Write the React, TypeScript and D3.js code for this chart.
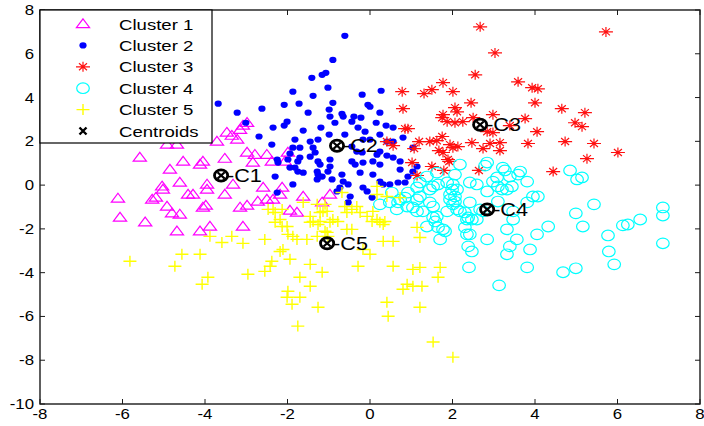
import React from 'react';
import * as d3 from 'd3';

const W = 704;
const H = 426;

const xTicks = [-8, -6, -4, -2, 0, 2, 4, 6, 8];
const yTicks = [-10, -8, -6, -4, -2, 0, 2, 4, 6, 8];

const cluster1: [number, number][] = [
  [-6.11,-0.61],[-6.06,-1.48],[-5.58,1.26],[-5.45,-1.70],[-5.28,-0.66],[-5.19,-0.57],[-5.02,-0.20],[-4.92,1.85],[-4.85,0.71],[-4.92,-0.98],
  [-4.80,-1.29],[-4.61,-1.34],[-4.68,-2.11],[-4.68,1.85],[-4.53,1.08],[-4.61,0.12],[-5.04,-0.06],[-4.41,-0.43],[-4.29,-0.43],[-4.12,0.94],
  [-4.05,1.08],[-4.05,-1.02],[-3.98,-0.93],[-4.12,-2.11],[-3.88,-1.89],[-3.95,-0.20],[-3.95,0.03],[-3.71,1.99],[-3.52,1.21],[-3.52,-0.43],
  [-3.32,0.03],[-3.47,2.40],[-3.35,2.26],[-3.22,2.08],[-3.15,2.53],[-3.08,2.72],[-2.98,2.85],[-3.15,-1.02],[-2.98,-0.93],[-3.08,-1.89],
  [-2.98,1.49],[-2.79,1.39],[-2.84,1.03],[-2.50,1.39],[-2.38,1.08],[-2.72,-0.75],[-2.59,-0.11],[-2.50,-0.66],[-2.35,-0.66],[-2.13,-0.11],
  [-2.06,1.08],[-1.99,1.49],[-1.94,-1.16],[-1.77,-1.25],[-1.62,-0.52],[-1.16,-0.79],[-0.97,-0.43],[-2.18,-0.43],
];

const cluster2: [number, number][] = [
  [-0.61,6.82],[-0.90,5.72],[-1.07,5.13],[-1.16,5.04],[-1.41,4.90],[-1.02,4.45],[-1.87,4.27],[-1.38,4.08],[-0.19,4.13],[0.27,4.31],
  [-2.08,3.67],[-1.72,3.72],[-0.90,3.76],[-0.05,3.67],[-3.68,3.72],[-3.22,3.31],[-3.01,2.85],[-2.62,3.49],
  [-1.50,3.31],[-0.99,3.45],[-0.68,3.26],[-0.65,3.13],[-0.39,3.13],[-0.22,3.08],[0.24,3.31],[-0.97,3.13],[0.00,3.58],
  [-2.01,2.90],[-2.08,2.72],[-2.35,2.63],[-0.85,2.85],[-0.44,2.90],[0.15,2.85],[0.39,2.72],[0.56,2.63],[-1.19,2.63],[-0.29,2.63],
  [-1.62,2.49],[-0.99,2.31],[-0.61,2.31],[-0.12,2.44],[0.24,2.31],[-2.69,2.22],[-2.38,1.85],[-1.82,2.08],[-1.26,2.08],[-1.45,1.99],
  [-0.17,2.08],[0.00,2.08],[0.56,1.99],[0.80,2.17],[0.41,1.99],
  [-1.87,1.71],[-1.38,1.71],[-1.70,1.71],[-0.44,1.76],[-0.32,1.53],[-0.19,1.49],[0.24,1.53],[0.17,1.39],[0.41,1.35],[0.56,1.26],[0.73,1.08],[1.04,1.71],
  [-1.94,1.44],[-1.70,1.26],[-1.45,1.30],[-1.33,1.49],[-1.26,1.08],[-1.21,0.94],[-0.97,1.17],[-0.44,1.08],[-0.36,0.94],[-0.17,1.03],[0.07,1.08],[0.24,0.94],
  [-2.25,1.17],[-2.23,1.03],[-1.75,1.08],[-1.99,1.17],
  [-1.94,0.80],[-1.82,0.80],[-1.75,0.62],[-1.62,0.57],[-1.28,0.62],[-1.26,0.48],[-1.16,0.39],[-0.97,0.85],[-1.02,0.62],[-0.68,0.48],
  [-0.24,0.57],[0.07,0.48],[1.14,0.85],[1.04,0.62],[0.73,0.71],[0.92,0.39],
  [-2.30,0.39],[-1.28,0.26],[-0.92,0.26],[-0.65,0.16],[-0.53,0.03],[0.24,0.16],[0.32,0.03],[0.68,0.12],[0.48,0.03],[0.85,0.12],
  [-1.87,0.03],[-0.73,-0.11],[-0.80,-0.29],[-0.17,-0.11],[-0.07,-0.29],[-2.25,-0.34],[-0.48,-0.52],[-0.53,-0.79],[0.05,-0.57],
];

const cluster3: [number, number][] = [
  [2.67,7.23],[5.72,7.00],[3.03,6.04],[2.55,5.04],[1.77,4.68],[2.01,4.27],[3.59,4.72],[3.93,4.45],[4.07,4.40],[2.45,3.76],
  [4.00,3.76],[2.06,3.54],[2.11,3.35],[1.77,3.22],[1.75,3.08],[2.98,3.22],[4.65,3.49],[5.21,3.31],[1.87,2.90],[2.06,2.85],
  [2.25,2.90],[2.50,3.08],[3.76,3.04],[4.97,2.85],[5.14,2.67],[3.39,2.72],[2.84,2.44],[2.98,2.40],[4.05,2.44],[1.75,2.22],
  [1.94,1.85],[2.01,1.71],[2.13,1.76],[2.47,1.94],[2.91,1.90],[3.15,1.94],[2.74,1.67],[3.15,1.58],[3.83,1.90],[4.73,1.99],
  [5.43,1.90],[6.01,1.49],[5.26,1.21],[1.77,1.49],[1.89,1.17],
  [0.78,4.27],[1.31,4.18],[1.50,4.36],[0.80,3.49],[0.85,2.58],[0.92,2.58],[1.19,1.99],[1.45,1.99],[1.62,2.03],[0.56,1.80],
  [0.41,1.99],[1.07,1.67],[1.67,1.58],[1.50,0.85],[1.79,0.67],[1.92,1.08],[2.64,0.67],[4.44,0.62],[1.14,0.44],[1.02,1.03],
];

const cluster4: [number, number][] = [
  [2.18,0.94],[2.84,1.03],[2.79,0.89],[3.22,0.80],[3.27,0.67],[3.64,0.62],[3.59,0.48],[3.81,0.16],[3.08,0.35],[2.98,0.16],
  [3.10,-0.06],[3.39,0.39],[3.44,-0.06],[3.20,-0.20],[3.32,-0.20],[2.42,0.12],[2.59,0.03],[2.84,-0.29],[2.06,0.48],[2.01,0.03],
  [1.99,-0.20],[2.11,-0.20],[1.94,-0.43],[2.06,-0.52],[2.06,-0.75],[1.65,0.03],[1.53,-0.06],[1.45,-0.20],[1.87,0.12],[1.21,0.12],
  [1.14,-0.11],[1.38,0.39],[1.62,0.57],[1.14,-0.66],[0.73,-0.66],[0.68,-0.79],[0.48,-0.79],[0.53,-0.34],[0.90,-0.98],[1.04,-1.02],
  [1.14,-1.20],[1.28,-1.20],[1.45,-0.79],[1.53,-0.98],[1.87,-1.20],[2.11,-1.11],[2.18,-1.20],[2.30,-1.25],[2.38,-1.48],[2.35,-1.57],
  [2.47,-1.57],[2.59,-1.57],[2.42,-0.79],[2.67,-1.11],[2.74,-1.20],[3.10,-0.75],[1.38,-1.89],[1.53,-1.48],[1.62,-1.43],[1.58,-1.66],
  [1.65,-1.93],[1.82,-2.11],[1.70,-2.48],[2.30,-1.93],[2.35,-2.25],[2.42,-2.25],[2.38,-2.80],[2.47,-3.03],[2.84,-2.48],[3.32,-2.02],
  [3.47,-1.57],[3.56,-2.48],[3.39,-2.80],[3.32,-3.16],[3.88,-2.94],[4.05,-2.25],[4.32,-1.89],[4.07,-0.52],[3.95,-0.52],[3.81,-0.79],
  [3.47,-1.20],[4.85,0.67],[5.02,0.26],[5.14,0.35],[5.43,-0.88],[4.99,-1.29],[5.16,-1.89],[5.77,-2.30],[5.79,-3.03],[5.92,-3.62],
  [6.13,-1.84],[6.25,-1.80],[6.55,-1.57],[7.10,-1.02],[7.10,-1.39],[7.10,-2.66],[3.81,-3.76],[4.68,-3.98],[4.99,-3.80],[2.40,-3.76],
  [3.13,-4.58],[0.24,-0.88],[0.65,-1.11],[0.85,-0.57],[0.92,-0.34],[1.21,-0.52],[1.77,-2.02],[1.94,-0.66],[2.01,-0.88],
];

const cluster5: [number, number][] = [
  [-5.82,-3.48],[-4.73,-3.71],[-4.56,-3.16],[-4.12,-3.16],[-4.07,-4.53],[-3.93,-4.21],[-3.88,-2.34],[-3.59,-2.62],[-3.35,-2.34],[-3.08,-2.66],
  [-2.96,-4.07],[-2.55,-2.48],[-2.47,-1.11],[-2.35,-1.11],[-2.30,-1.25],[-2.13,-1.11],[-2.30,-1.70],[-2.18,-1.57],[-2.13,-1.89],[-1.99,-2.25],
  [-1.77,-2.48],[-1.53,-2.48],[-2.18,-3.03],[-2.11,-2.94],[-2.38,-3.48],[-2.42,-3.71],[-2.55,-3.94],[-1.94,-3.39],[-1.70,-4.21],[-1.45,-4.62],
  [-1.99,-4.85],[-2.01,-5.12],[-1.89,-5.44],[-1.70,-5.12],[-1.26,-5.58],[-1.75,-6.44],[-1.45,-3.62],[-1.16,-3.98],[-1.28,-2.34],[-1.04,-2.16],
  [-1.21,-1.25],[-1.04,-1.20],[-1.09,-0.88],[-1.62,-0.79],[-1.45,-1.43],[-1.21,-1.66],[-0.90,-1.57],[-0.78,-1.66],[-0.56,-2.02],[-0.56,-1.25],
  [-0.61,-0.98],[-0.68,-0.34],[0.17,-0.06],[0.17,-0.43],[0.41,-0.52],[-0.24,-1.25],[-0.07,-1.43],[0.07,-1.20],[0.17,-1.57],[0.36,-1.66],
  [0.32,-1.80],[-0.17,-2.94],[0.00,-3.16],[-0.29,-3.71],[0.32,-2.57],[0.56,-2.57],[0.56,-3.71],[1.04,-3.85],[1.21,-3.76],[1.70,-3.76],
  [1.65,-4.21],[0.90,-4.53],[1.04,-4.62],[1.26,-4.62],[0.80,-4.76],[0.41,-5.35],[0.44,-5.99],[1.21,-5.58],[1.53,-7.17],[2.01,-7.86],
  [1.14,-1.93],[1.21,-2.39],[0.73,-0.57],[-1.45,-1.70],[-1.38,-1.66],[-1.26,-1.80],[-0.44,-1.11],[-0.32,-0.98],[-0.97,-1.70],[-0.44,-2.02],
  [0.05,-1.66],[0.24,-1.70],[-1.87,-2.34],[-1.09,-2.11],[-1.02,-2.34],[-2.01,-1.89],[-1.14,-1.20],[-1.28,-0.88],
];

const centroidNames = ['C1', 'C2', 'C3', 'C4', 'C5'];
const centroidX = [-3.61, -0.80, 2.67, 2.84, -1.04];
const centroidY = [0.44, 1.80, 2.76, -1.11, -2.66];

const legendLabels = ['Cluster 1', 'Cluster 2', 'Cluster 3', 'Cluster 4', 'Cluster 5', 'Centroids'];

const FONT = '"Liberation Sans", Arial, Helvetica, sans-serif';
const SX = 1.2; // horizontal stretch of the original figure

type Kind = 'tri' | 'dot' | 'star' | 'circ' | 'plus' | 'x';

function Marker({ kind, cx, cy }: { kind: Kind; cx: number; cy: number }) {
  const t = `translate(${cx},${cy})`;
  switch (kind) {
    case 'tri':
      return <path transform={t} d="M0,-5.2L6.6,3.6L-6.6,3.6Z" fill="none" stroke="#ff00ff" strokeWidth={1.2} />;
    case 'dot':
      return <ellipse cx={cx} cy={cy} rx={3.6} ry={3.1} fill="#0000ff" />;
    case 'star':
      return (
        <path
          transform={t}
          d="M-7,0H7M0,-5V5M-4,-3.5L4,3.5M-4,3.5L4,-3.5"
          fill="none"
          stroke="#ff1010"
          strokeWidth={1.2}
        />
      );
    case 'circ':
      return <ellipse cx={cx} cy={cy} rx={6.3} ry={5.3} fill="none" stroke="#00ffff" strokeWidth={1.2} />;
    case 'plus':
      return <path transform={t} d="M-6.5,0H6.5M0,-5.5V5.5" fill="none" stroke="#ffff00" strokeWidth={1.4} />;
    case 'x':
      return <path transform={t} d="M-3.5,-3.5L3.5,3.5M-3.5,3.5L3.5,-3.5" fill="none" stroke="#000" strokeWidth={2.4} />;
  }
  return null;
}

export default function App() {
  const left = 40, right = 700, top = 10, bottom = 404;
  const x = d3.scaleLinear().domain([-8, 8]).range([left, right]);
  const y = d3.scaleLinear().domain([-10, 8]).range([bottom, top]);

  const series: { kind: Kind; data: [number, number][] }[] = [
    { kind: 'tri', data: cluster1 },
    { kind: 'dot', data: cluster2 },
    { kind: 'star', data: cluster3 },
    { kind: 'circ', data: cluster4 },
    { kind: 'plus', data: cluster5 },
  ];
  const legendKinds: Kind[] = ['tri', 'dot', 'star', 'circ', 'plus', 'x'];

  const legendTop = top;
  const legendRowH = 21.4;
  const legendFirst = 24;
  const legendBottom = 143;
  const legendRight = 212;

  return (
    <svg
      width={W}
      height={H}
      style={{ position: 'absolute', left: 0, top: 0, background: '#fff' }}
      fontFamily={FONT}
    >
      <rect x={0} y={0} width={W} height={H} fill="#fff" />
      <defs>
        <clipPath id="plotclip">
          <rect x={left} y={top} width={right - left} height={bottom - top} />
        </clipPath>
      </defs>

      <g clipPath="url(#plotclip)">
        {series.map((s, si) => (
          <g key={si}>
            {s.data.map((d, i) => (
              <Marker key={i} kind={s.kind} cx={x(d[0])} cy={y(d[1])} />
            ))}
          </g>
        ))}
        {centroidNames.map((n, i) => {
          const cx = x(centroidX[i]);
          const cy = y(centroidY[i]);
          return (
            <g key={n}>
              <ellipse cx={cx} cy={cy} rx={6.6} ry={5.6} fill="none" stroke="#000" strokeWidth={2.8} />
              <path
                transform={`translate(${cx},${cy})`}
                d="M-3.6,-3.2L3.6,3.2M-3.6,3.2L3.6,-3.2"
                stroke="#000"
                strokeWidth={2.2}
              />
              <text
                transform={`translate(${cx + 6},${cy + 6.5}) scale(${SX},1)`}
                fontSize={18}
                fill="#000"
              >
                {'-' + n}
              </text>
            </g>
          );
        })}
      </g>

      {/* axes box */}
      <rect x={left} y={top} width={right - left} height={bottom - top} fill="none" stroke="#1a1a1a" strokeWidth={1.4} />
      {xTicks.map((t) => (
        <g key={'x' + t}>
          <line x1={x(t)} x2={x(t)} y1={bottom} y2={bottom - 5} stroke="#1a1a1a" strokeWidth={1} />
          <line x1={x(t)} x2={x(t)} y1={top} y2={top + 5} stroke="#1a1a1a" strokeWidth={1} />
          <text
            transform={`translate(${x(t)},${bottom + 15}) scale(${SX},1)`}
            textAnchor="middle"
            fontSize={14}
            fill="#000"
          >
            {t}
          </text>
        </g>
      ))}
      {yTicks.map((t) => (
        <g key={'y' + t}>
          <line x1={left} x2={left + 5} y1={y(t)} y2={y(t)} stroke="#1a1a1a" strokeWidth={1} />
          <line x1={right} x2={right - 5} y1={y(t)} y2={y(t)} stroke="#1a1a1a" strokeWidth={1} />
          <text
            transform={`translate(${left - 6},${y(t) + 5}) scale(${SX},1)`}
            textAnchor="end"
            fontSize={14}
            fill="#000"
          >
            {t}
          </text>
        </g>
      ))}

      {/* legend */}
      <rect
        x={left}
        y={legendTop}
        width={legendRight - left}
        height={legendBottom - legendTop}
        fill="#fff"
        stroke="#000"
        strokeWidth={1.2}
      />
      {legendLabels.map((lab, i) => {
        const cy = legendFirst + i * legendRowH;
        return (
          <g key={lab}>
            <Marker kind={legendKinds[i]} cx={83} cy={cy} />
            <text transform={`translate(119,${cy + 5.5}) scale(${SX},1)`} fontSize={15.5} fill="#000">
              {lab}
            </text>
          </g>
        );
      })}
    </svg>
  );
}
